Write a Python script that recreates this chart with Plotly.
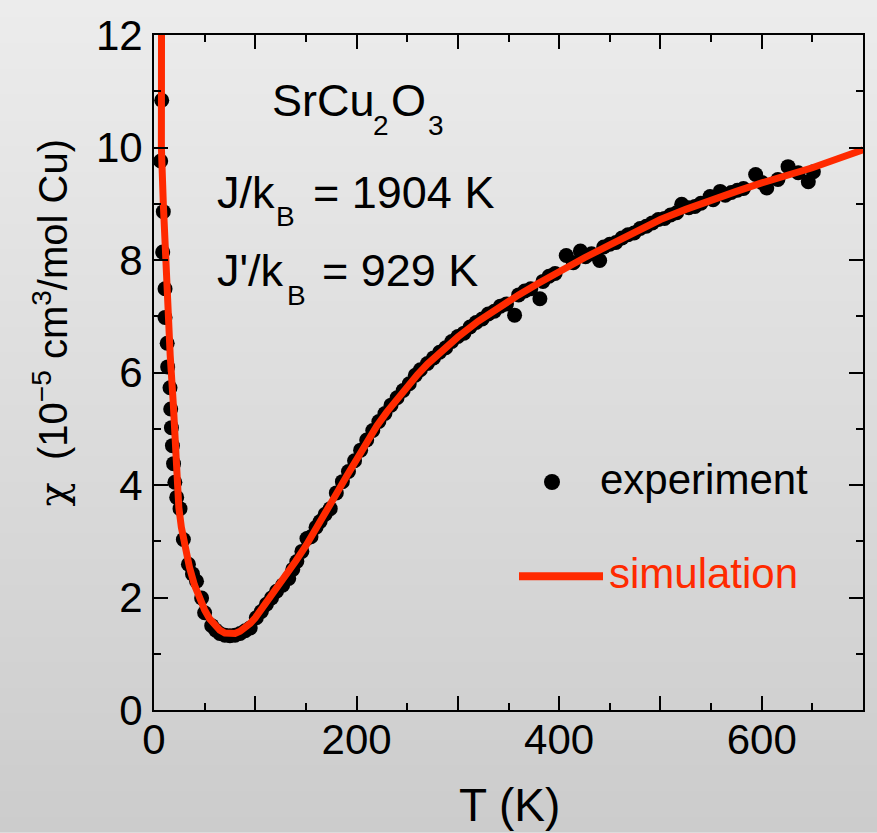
import plotly.graph_objects as go

# ---------------- data ----------------
exp_T = [6.6, 7.6, 8.6, 9.2, 10.9, 10.9, 13.0, 13.5, 15.8, 16.5, 17.2, 18.2, 19.3, 20.6, 22.4,
         25.7, 29.0, 34.0, 38.0, 42.0, 47.0, 50.0, 57.0, 61.0, 65.0, 70.0, 75.0, 80.0, 85.0,
         90.0, 95.0, 101.0, 106.0, 111.0, 116.0, 121.0, 127.0, 133.0, 137.0, 141.0, 146.0,
         151.0, 155.0, 160.0, 164.0, 169.0, 174.0,
         180, 186, 192, 198, 204, 210, 216, 222, 228, 234, 240, 246, 252, 258, 263, 270, 276,
         282, 288, 294, 300, 306, 312, 318, 324, 330, 336, 342, 348, 356, 360, 366, 372, 381,
         384, 390, 396, 407, 414, 421, 426, 432, 440, 444, 450, 456, 462, 468, 474, 480, 486,
         492, 498, 504, 510, 516, 521, 528, 534, 540, 549, 552, 559, 564, 570, 576, 582, 594,
         600, 605, 616, 626, 636, 646, 651]
exp_chi = [9.76, 10.84, 8.14, 8.86, 7.49, 6.98, 6.52, 6.10, 5.73, 5.35, 5.02, 4.70, 4.38, 4.05, 3.78,
           3.58, 3.03, 2.59, 2.42, 2.29, 1.99, 1.73, 1.50, 1.42, 1.36, 1.33, 1.32, 1.33, 1.36,
           1.41, 1.46, 1.64, 1.75, 1.88, 1.99, 2.11, 2.22, 2.34, 2.50, 2.64, 2.82,
           3.05, 3.08, 3.25, 3.35, 3.48, 3.58,
           3.86, 4.06, 4.24, 4.43, 4.62, 4.80, 4.97, 5.13, 5.27, 5.42, 5.55, 5.68, 5.80, 5.95, 6.05, 6.16, 6.26,
           6.36, 6.44, 6.55, 6.64, 6.70, 6.81, 6.89, 6.95, 7.04, 7.09, 7.18, 7.22, 7.02, 7.38, 7.45, 7.49, 7.31,
           7.62, 7.71, 7.76, 8.08, 7.95, 8.16, 8.06, 8.11, 7.99, 8.23, 8.28, 8.31, 8.39, 8.45, 8.48, 8.56, 8.60,
           8.66, 8.72, 8.74, 8.80, 8.84, 8.99, 8.93, 8.95, 9.01, 9.13, 9.07, 9.22, 9.15, 9.20, 9.24, 9.27, 9.52,
           9.38, 9.28, 9.43, 9.66, 9.55, 9.39, 9.57]

sim_T = [7.4, 7.2, 7.3, 9.2, 11.0, 13.5, 16.0, 19.0, 20.5, 22.0, 24.5, 27.0, 30, 35, 40,
         45, 50, 55, 60, 65, 70, 75, 80, 85, 90, 95, 100, 110, 120, 130, 140, 150, 160, 170, 180,
         190, 200, 210, 220, 230, 240, 250, 260, 270, 280, 290, 300, 320, 340, 360, 380, 400, 425,
         450, 475, 500, 525, 550, 575, 600, 625, 650, 675, 700]
sim_chi = [12.0, 11.0, 10.0, 9.0, 8.1, 7.22, 6.3, 5.46, 4.8, 4.05, 3.6, 3.25, 2.93, 2.54, 2.22,
           1.98, 1.78, 1.62, 1.50, 1.42, 1.37, 1.35, 1.36, 1.40, 1.46, 1.54, 1.64, 1.88, 2.13, 2.39, 2.65,
           2.92, 3.21, 3.52, 3.84, 4.15, 4.46, 4.77, 5.05, 5.30, 5.53, 5.75, 5.96, 6.15, 6.32, 6.48, 6.63,
           6.91, 7.16, 7.38, 7.59, 7.80, 8.04, 8.27, 8.50, 8.72, 8.90, 9.07, 9.22, 9.37, 9.50, 9.64,
           9.80, 9.96]

x_tickvals = [0, 100, 200, 300, 400, 500, 600, 700]
x_ticktext = ["0", "", "200", "", "400", "", "600", ""]
x_minorvals = [50, 150, 250, 350, 450, 550, 650]
y_tickvals = [0, 2, 4, 6, 8, 10, 12]
y_ticktext = ["0", "2", "4", "6", "8", "10", "12"]
y_minorvals = [1, 3, 5, 7, 9, 11]

# ---------------- layout geometry ----------------
W, H = 877, 833
ML, MR, MT, MB = 154, 14, 29, 123
PW, PH = W - ML - MR, H - MT - MB
FONT = "Liberation Sans, Arial, Helvetica, sans-serif"
RED = "#ff2a00"
BIG, SUB = 45, 28


def px(x):
    return (x - ML) / PW


def py(y):
    return (H - MB - y) / PH


def top_for_baseline(baseline, size):
    # annotation box top (incl. 2px pad) for a desired text baseline
    return baseline - 0.905 * size - 2


fig = go.Figure()
fig.add_trace(go.Scatter(x=exp_T, y=exp_chi, mode="markers", name="experiment",
                         marker=dict(color="black", size=15), showlegend=False))
fig.add_trace(go.Scatter(x=sim_T, y=sim_chi, mode="lines", name="simulation",
                         line=dict(color=RED, width=7), showlegend=False))

# background gradient
shapes = []
N = 64
for i in range(N):
    y0p = H * i / N
    y1p = H * (i + 1) / N
    c = int(round(236 - 32 * ((y0p + y1p) / 2) / H))
    shapes.append(dict(type="rect", xref="paper", yref="paper", layer="below",
                       x0=px(-2), x1=px(W + 2), y0=py(y1p + 0.5), y1=py(y0p - 2),
                       line=dict(width=0), fillcolor=f"rgb({c},{c},{c})"))

# legend symbols
shapes.append(dict(type="circle", xref="paper", yref="paper", xsizemode="pixel", ysizemode="pixel",
                   xanchor=px(552), yanchor=py(480), x0=-8, x1=8, y0=-8, y1=8,
                   fillcolor="black", line=dict(width=0)))
shapes.append(dict(type="line", xref="paper", yref="paper", x0=px(519), x1=px(603),
                   y0=py(575), y1=py(575), line=dict(color=RED, width=8)))


def txt(text, left, baseline, size, color="black"):
    return dict(text=text, x=px(left - 2), y=py(top_for_baseline(baseline, size)),
                xanchor="left", yanchor="top", font=dict(size=size, color=color, family=FONT))


annotations = [
    # SrCu2O3
    txt("SrCu", 272, 110, BIG), txt("2", 373, 130, SUB),
    txt("O", 391, 110, BIG), txt("3", 428, 130, SUB),
    # J/kB = 1904 K
    txt("J/k", 217, 203, BIG), txt("B", 276, 222, SUB),
    txt("= 1904 K", 313, 203, BIG),
    # J'/kB = 929 K
    txt("J'/k", 217, 282, BIG), txt("B", 287, 301, SUB),
    txt("= 929 K", 322, 282, BIG),
    # legend texts
    txt("experiment", 600, 492, 42),
    txt("simulation", 609, 587, 42, RED),
    dict(text="<span style='font-family:DejaVu Serif'>\u03c7</span>  (10<sup>\u22125</sup> cm<sup>3</sup>/mol Cu)",
         x=px(51), y=py(320), xanchor="center", yanchor="middle", textangle=-90,
         font=dict(size=40, color="black", family=FONT)),
    dict(text="T (K)", x=px(509), y=py(778), xanchor="center", yanchor="top",
         font=dict(size=46, color="black", family=FONT)),
]
for a in annotations:
    a.update(xref="paper", yref="paper", showarrow=False)

axis_common = dict(showline=True, linecolor="black", linewidth=2, mirror="ticks",
                   ticks="inside", ticklen=14, tickwidth=2, tickcolor="black",
                   showgrid=False, zeroline=False,
                   tickfont=dict(size=42, color="black", family=FONT))

fig.update_layout(
    width=W, height=H,
    margin=dict(l=ML, r=MR, t=MT, b=MB, pad=0),
    paper_bgcolor="rgb(236,236,236)",
    plot_bgcolor="rgba(0,0,0,0)",
    shapes=shapes,
    annotations=annotations,
    xaxis=dict(range=[0, 700], tickmode="array", tickvals=x_tickvals, ticktext=x_ticktext,
               minor=dict(tickmode="array", tickvals=x_minorvals, ticks="inside", ticklen=7,
                          tickwidth=2, tickcolor="black"),
               ticklabelstandoff=-8, **axis_common),
    yaxis=dict(range=[0, 12], tickmode="array", tickvals=y_tickvals, ticktext=y_ticktext,
               minor=dict(tickmode="array", tickvals=y_minorvals, ticks="inside", ticklen=7,
                          tickwidth=2, tickcolor="black"),
               ticklabelstandoff=1, **axis_common),
    showlegend=False,
)

fig.write_html("out.html")
